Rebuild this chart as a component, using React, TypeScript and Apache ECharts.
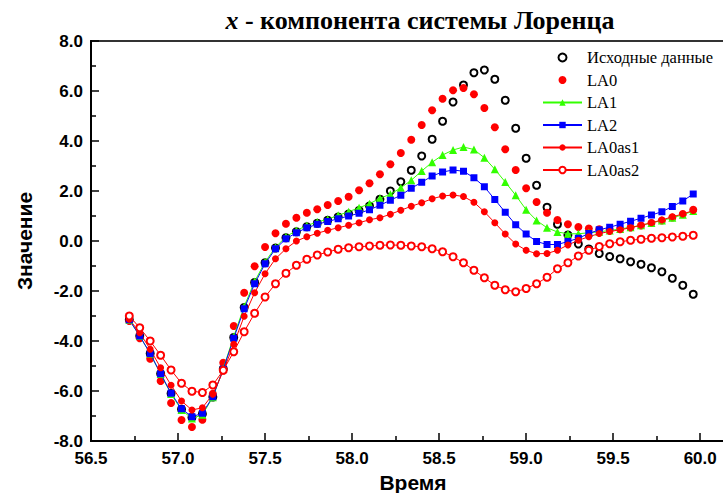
import React, { useEffect, useRef } from 'react';
import * as echarts from 'echarts';

const times = [
  56.72, 56.78, 56.84, 56.9, 56.96, 57.02, 57.08, 57.14, 57.2, 57.26,
  57.32, 57.38, 57.44, 57.5, 57.56, 57.62, 57.68, 57.74, 57.8, 57.86,
  57.92, 57.98, 58.04, 58.1, 58.16, 58.22, 58.28, 58.34, 58.4, 58.46,
  58.52, 58.58, 58.64, 58.7, 58.76, 58.82, 58.88, 58.94, 59.0, 59.06,
  59.12, 59.18, 59.24, 59.3, 59.36, 59.42, 59.48, 59.54, 59.6, 59.66,
  59.72, 59.78, 59.84, 59.9, 59.96,
];

const original = [
  -3.15, -3.8, -4.5, -5.31, -6.1, -6.73, -7.06, -6.92, -6.24, -5.12,
  -3.86, -2.66, -1.66, -0.87, -0.28, 0.13, 0.37, 0.57, 0.71, 0.83,
  0.96, 1.08, 1.22, 1.4, 1.67, 2.0, 2.37, 2.83, 3.4, 4.07,
  4.79, 5.56, 6.24, 6.73, 6.84, 6.47, 5.63, 4.51, 3.31, 2.23,
  1.35, 0.67, 0.24, -0.12, -0.32, -0.5, -0.62, -0.71, -0.83, -0.93,
  -1.07, -1.23, -1.49, -1.77, -2.13,
];

const la0 = [
  -3.2, -3.89, -4.71, -5.6, -6.48, -7.16, -7.44, -7.15, -6.11, -4.87,
  -3.4, -2.07, -1.01, -0.24, 0.31, 0.69, 0.93, 1.13, 1.27, 1.44,
  1.6, 1.77, 2.03, 2.31, 2.67, 3.07, 3.52, 4.05, 4.64, 5.23,
  5.69, 6.03, 6.12, 5.87, 5.32, 4.55, 3.67, 2.84, 2.11, 1.56,
  1.13, 0.84, 0.67, 0.56, 0.5, 0.47, 0.46, 0.48, 0.54, 0.62,
  0.72, 0.82, 0.94, 1.08, 1.25,
];

const la1 = [
  -3.15, -3.8, -4.5, -5.32, -6.12, -6.76, -7.1, -6.95, -6.25, -5.1,
  -3.82, -2.62, -1.62, -0.84, -0.25, 0.17, 0.42, 0.62, 0.76, 0.87,
  1.03, 1.17, 1.33, 1.49, 1.71, 1.87, 2.13, 2.43, 2.8, 3.15,
  3.44, 3.64, 3.76, 3.66, 3.33, 2.87, 2.36, 1.83, 1.25, 0.82,
  0.53, 0.36, 0.29, 0.29, 0.33, 0.37, 0.42, 0.48, 0.55, 0.63,
  0.72, 0.82, 0.93, 1.05, 1.2,
];

const la2 = [
  -3.15, -3.8, -4.5, -5.31, -6.09, -6.71, -7.03, -6.89, -6.23, -5.13,
  -3.89, -2.71, -1.71, -0.91, -0.31, 0.09, 0.33, 0.53, 0.67, 0.78,
  0.89, 1.0, 1.11, 1.25, 1.43, 1.63, 1.83, 2.11, 2.35, 2.6,
  2.76, 2.84, 2.79, 2.53, 2.17, 1.66, 1.15, 0.65, 0.28, -0.02,
  -0.14, -0.14, -0.02, 0.11, 0.3, 0.45, 0.55, 0.67, 0.79, 0.91,
  1.04, 1.17, 1.38, 1.6, 1.88,
];

const la0as1 = [
  -3.13, -3.67, -4.33, -5.07, -5.77, -6.4, -6.76, -6.67, -6.13, -5.2,
  -4.13, -3.01, -2.07, -1.31, -0.71, -0.31, 0.0, 0.17, 0.31, 0.43,
  0.53, 0.63, 0.73, 0.85, 0.93, 1.07, 1.23, 1.39, 1.53, 1.69,
  1.8, 1.84, 1.78, 1.55, 1.17, 0.73, 0.28, -0.12, -0.37, -0.51,
  -0.5, -0.37, -0.16, 0.03, 0.17, 0.3, 0.38, 0.45, 0.53, 0.63,
  0.73, 0.84, 0.97, 1.08, 1.22,
];

const la0as2 = [
  -3.0, -3.47, -4.0, -4.57, -5.16, -5.69, -6.01, -6.06, -5.76, -5.17,
  -4.43, -3.63, -2.89, -2.24, -1.71, -1.29, -0.97, -0.73, -0.56, -0.44,
  -0.33, -0.27, -0.23, -0.2, -0.17, -0.16, -0.17, -0.2, -0.23, -0.31,
  -0.43, -0.63, -0.87, -1.17, -1.47, -1.77, -1.95, -2.03, -1.9, -1.71,
  -1.45, -1.11, -0.87, -0.6, -0.37, -0.22, -0.11, -0.03, 0.03, 0.07,
  0.11, 0.13, 0.16, 0.19, 0.23,
];

const seriesNames = ['Исходные данные', 'LA0', 'LA1', 'LA2', 'LA0as1', 'LA0as2'];
const titleText = ' - компонента системы Лоренца';
const xName = 'Время';
const yName = 'Значение';

const RED = '#ff0000';
const GREEN = '#33ff00';
const BLUE = '#0000ff';

const pairs = (ys: number[]) => ys.map((y, i) => [times[i], y]);

export default function App() {
  const ref = useRef<HTMLDivElement>(null);
  useEffect(() => {
    if (!ref.current) return;
    const chart = echarts.init(ref.current, undefined, { renderer: 'svg' });
    const sans = 'Liberation Sans, Arial, sans-serif';
    const serif = 'Liberation Serif, Times New Roman, serif';
    chart.setOption({
      animation: false,
      backgroundColor: '#ffffff',
      graphic: [
        {
          type: 'text',
          x: 420,
          y: 20,
          style: {
            text: '{i|x}{b|' + titleText + '}',
            align: 'center',
            verticalAlign: 'middle',
            rich: {
              i: { fontFamily: serif, fontStyle: 'italic', fontWeight: 'bold', fontSize: 26, fill: '#000' },
              b: { fontFamily: serif, fontWeight: 'bold', fontSize: 26, fill: '#000' },
            },
          },
        },
      ],
      legend: {
        orient: 'vertical',
        left: 542,
        top: 49,
        padding: 0,
        itemWidth: 39,
        itemHeight: 8,
        itemGap: 5.5,
        textStyle: { fontFamily: serif, fontSize: 16.5, color: '#000', lineHeight: 16 },
        data: seriesNames,
      },
      grid: {
        left: 91,
        top: 41,
        width: 644,
        height: 400,
        show: true,
        borderColor: '#333',
        borderWidth: 2,
        containLabel: false,
        outerBoundsMode: 'none',
      },
      xAxis: {
        type: 'value',
        min: 56.5,
        max: 60.2,
        interval: 0.5,
        name: xName,
        nameLocation: 'middle',
        nameGap: 27,
        nameTextStyle: { fontFamily: sans, fontWeight: 'bold', fontSize: 21, color: '#000' },
        axisLine: { show: true, onZero: false, lineStyle: { color: '#000', width: 2 } },
        axisTick: { show: true, inside: true, length: 8, lineStyle: { color: '#000', width: 1.5 } },
        minorTick: { show: true, splitNumber: 2, length: 5, lineStyle: { color: '#000', width: 1.5 } },
        splitLine: { show: false },
        axisLabel: {
          margin: 9,
          fontFamily: sans,
          fontWeight: 'bold',
          fontSize: 17,
          color: '#000',
          showMaxLabel: false,
          formatter: (v: number) => v.toFixed(1),
        },
      },
      yAxis: {
        type: 'value',
        min: -8,
        max: 8,
        interval: 2,
        name: yName,
        nameLocation: 'middle',
        nameGap: 56,
        nameTextStyle: { fontFamily: sans, fontWeight: 'bold', fontSize: 21, color: '#000' },
        axisLine: { show: true, onZero: false, lineStyle: { color: '#000', width: 2 } },
        axisTick: { show: true, inside: true, length: 8, lineStyle: { color: '#000', width: 1.5 } },
        minorTick: { show: true, splitNumber: 2, length: 5, lineStyle: { color: '#000', width: 1.5 } },
        splitLine: { show: false },
        axisLabel: {
          margin: 8,
          fontFamily: sans,
          fontWeight: 'bold',
          fontSize: 17,
          color: '#000',
          formatter: (v: number) => v.toFixed(1),
        },
      },
      series: [
        {
          name: seriesNames[0],
          type: 'scatter',
          data: pairs(original),
          symbol: 'emptyCircle',
          symbolSize: 7,
          itemStyle: { color: '#000', borderColor: '#000', borderWidth: 1, opacity: 1 },
        },
        {
          name: seriesNames[1],
          type: 'scatter',
          data: pairs(la0),
          symbol: 'circle',
          symbolSize: 8,
          itemStyle: { color: RED, opacity: 1 },
        },
        {
          name: seriesNames[2],
          type: 'line',
          data: pairs(la1),
          symbol: 'triangle',
          symbolSize: 8,
          showAllSymbol: true,
          lineStyle: { color: GREEN, width: 1 },
          itemStyle: { color: GREEN },
        },
        {
          name: seriesNames[3],
          type: 'line',
          data: pairs(la2),
          symbol: 'rect',
          symbolSize: 7,
          showAllSymbol: true,
          lineStyle: { color: BLUE, width: 1 },
          itemStyle: { color: BLUE },
        },
        {
          name: seriesNames[4],
          type: 'line',
          data: pairs(la0as1),
          symbol: 'circle',
          symbolSize: 7,
          showAllSymbol: true,
          lineStyle: { color: RED, width: 1 },
          itemStyle: { color: RED },
        },
        {
          name: seriesNames[5],
          type: 'line',
          data: pairs(la0as2),
          symbol: 'emptyCircle',
          symbolSize: 7,
          showAllSymbol: true,
          lineStyle: { color: RED, width: 1 },
          itemStyle: { color: RED, borderWidth: 1 },
        },
      ],
    });
    return () => chart.dispose();
  }, []);
  return (
    <div
      ref={ref}
      style={{ position: 'absolute', left: 0, top: 0, width: 723, height: 493, background: '#fff', overflow: 'hidden' }}
    />
  );
}
